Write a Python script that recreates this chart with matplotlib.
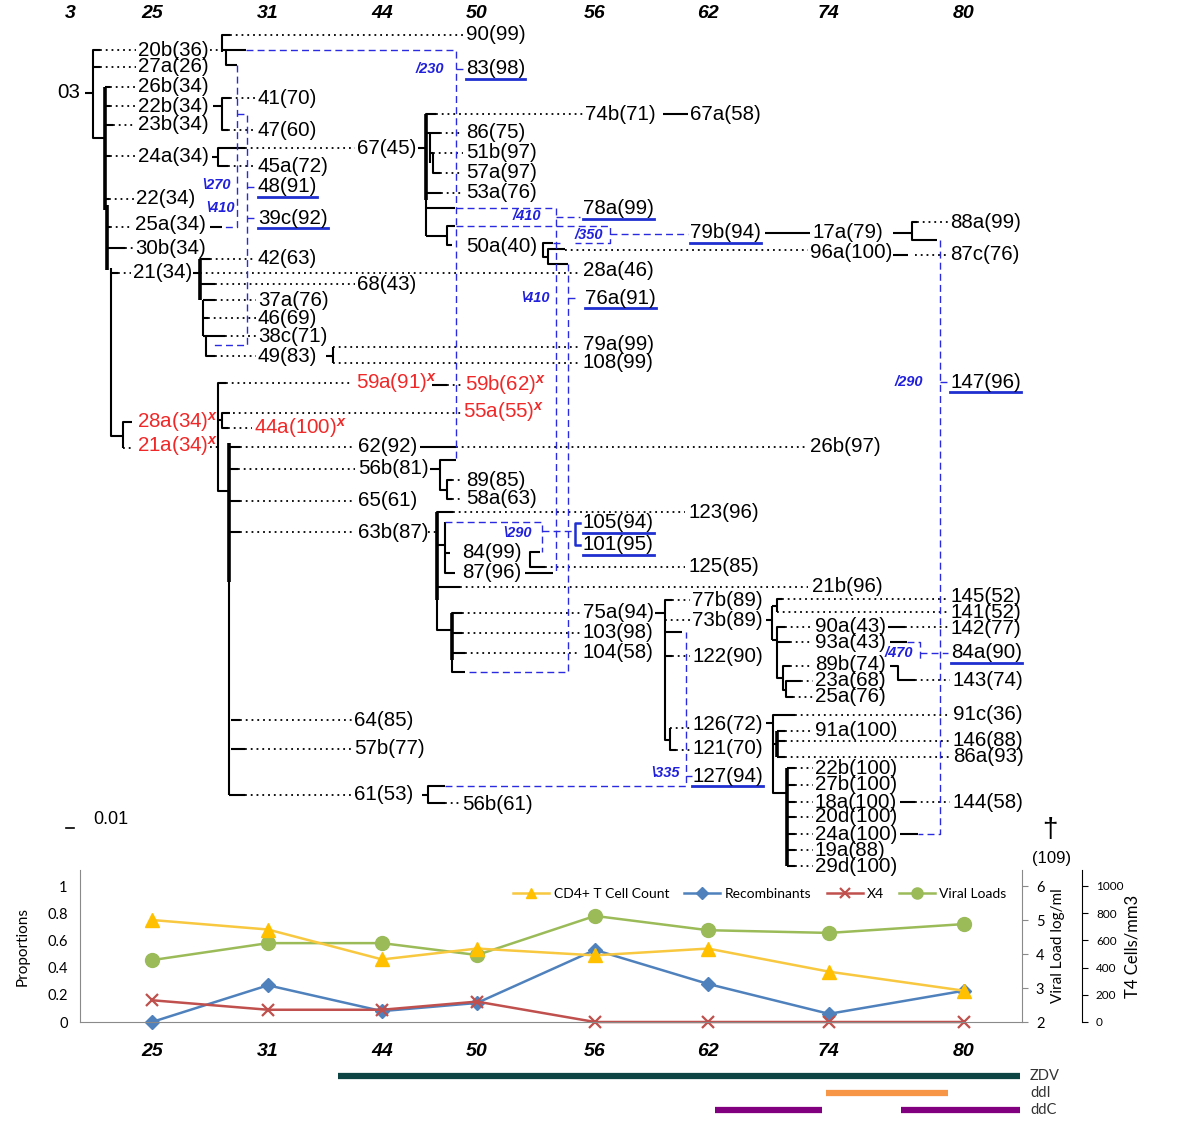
import matplotlib.pyplot as plt

plt.rcParams['mathtext.fontset'] = 'custom'
plt.rcParams['mathtext.rm'] = 'Liberation Sans'
plt.rcParams['mathtext.it'] = 'Liberation Sans:italic:bold'

# sampling weeks, and the column where each week sits in the tree
weeks = ['3', '25', '31', '44', '50', '56', '62', '74', '80']
week_x = [70, 152, 268, 382, 477, 595, 708, 829, 964]

# bottom panel (weeks 25..80)
cd4_cells = [750, 680, 460, 540, 490, 540, 370, 230]
recomb_prop = [0.0, 0.27, 0.08, 0.14, 0.53, 0.28, 0.06, 0.23]
x4_prop = [0.16, 0.09, 0.09, 0.15, 0.0, 0.0, 0.0, 0.0]
viral_log = [3.82, 4.32, 4.32, 3.97, 5.12, 4.70, 4.62, 4.88]

# therapy periods
drugs = ['ZDV', 'ddI', 'ddC']
drug_spans = [[(338, 1020)], [(826, 948)], [(715, 822), (901, 1020)]]
drug_colors = ['#0d4545', '#f79646', '#800080']

# tree: clone labels (name, x, y)
leaves = [
    ('03', 57, 93), ('20b(36)', 138, 50), ('27a(26)', 138, 67), ('26b(34)', 138, 87),
    ('22b(34)', 138, 106), ('23b(34)', 138, 125), ('24a(34)', 138, 156),
    ('22(34)', 136, 199), ('25a(34)', 135, 224), ('30b(34)', 135, 248),
    ('21(34)', 133, 273), ('90(99)', 466, 35), ('41(70)', 258, 98), ('47(60)', 258, 130),
    ('45a(72)', 258, 166), ('67(45)', 357, 148), ('42(63)', 258, 259), ('68(43)', 357, 284),
    ('37a(76)', 258, 300), ('46(69)', 258, 318), ('38c(71)', 258, 336), ('49(83)', 258, 356),
    ('74b(71)', 585, 114), ('67a(58)', 690, 114), ('86(75)', 466, 133), ('51b(97)', 466, 153),
    ('57a(97)', 466, 173), ('53a(76)', 466, 193), ('50a(40)', 466, 247), ('28a(46)', 583, 271),
    ('79a(99)', 583, 345), ('108(99)', 583, 363), ('17a(79)', 812, 233), ('96a(100)', 810, 253),
    ('88a(99)', 950, 222), ('87c(76)', 950, 255), ('62(92)', 358, 447), ('56b(81)', 358, 469),
    ('65(61)', 358, 501), ('63b(87)', 358, 532), ('64(85)', 354, 720), ('57b(77)', 354, 749),
    ('61(53)', 354, 795), ('26b(97)', 810, 447), ('89(85)', 466, 480), ('58a(63)', 466, 499),
    ('123(96)', 688, 513), ('84(99)', 462, 553), ('87(96)', 462, 573), ('125(85)', 688, 566),
    ('21b(96)', 812, 586), ('75a(94)', 583, 613), ('103(98)', 583, 633), ('104(58)', 583, 653),
    ('77b(89)', 692, 600), ('73b(89)', 692, 620), ('122(90)', 692, 656), ('126(72)', 692, 725),
    ('121(70)', 692, 748), ('56b(61)', 462, 805), ('145(52)', 951, 596), ('141(52)', 951, 612),
    ('142(77)', 951, 628), ('90a(43)', 815, 627), ('93a(43)', 815, 642), ('89b(74)', 815, 665),
    ('23a(68)', 815, 681), ('25a(76)', 815, 697), ('143(74)', 953, 680), ('91c(36)', 953, 714),
    ('91a(100)', 815, 731), ('146(88)', 953, 740), ('86a(93)', 953, 757), ('22b(100)', 815, 768),
    ('27b(100)', 815, 785), ('18a(100)', 815, 802), ('20d(100)', 815, 817), ('24a(100)', 815, 834),
    ('19a(88)', 815, 850), ('29d(100)', 815, 866), ('144(58)', 953, 802),
]
# recombinant clones (underlined)
recombinants = [
    ('83(98)', 466, 69), ('48(91)', 258, 187), ('39c(92)', 258, 218), ('78a(99)', 583, 209),
    ('79b(94)', 690, 233), ('76a(91)', 585, 298), ('147(96)', 950, 382), ('105(94)', 583, 523),
    ('101(95)', 583, 545), ('127(94)', 692, 776), ('84a(90)', 951, 653),
]
# X4 clones
x4_clones = [
    ('28a(34)', 137, 422), ('21a(34)', 137, 446), ('59a(91)', 356, 383),
    ('44a(100)', 254, 428), ('59b(62)', 465, 385), ('55a(55)', 463, 412),
]
# recombination breakpoints
breakpoints = [
    ('/230', 416, 69), ('\\270', 202, 185), ('\\410', 206, 208), ('/410', 513, 216),
    ('/350', 575, 235), ('\\410', 521, 298), ('/290', 895, 382), ('\\290', 503, 533),
    ('\\335', 651, 773), ('/470', 885, 653),
]

solid_paths = [
    [(85, 93), (93, 93)], [(100, 50), (93, 50), (93, 138), (105, 138)], [(93, 67), (100, 67)],
    [(105, 87), (110, 87)], [(105, 106), (110, 106)], [(105, 125), (113, 125)],
    [(105, 156), (110, 156)], [(105, 199), (109, 199)], [(107, 227), (110, 227)],
    [(107, 248), (125, 248)], [(111, 273), (118, 273)], [(111, 268), (111, 436), (123, 436)],
    [(132, 422), (123, 422), (123, 448)],
    [(230, 35), (222, 35), (222, 52)], [(222, 50), (246, 50)], [(226, 50), (226, 65), (237, 65)],
    [(213, 106), (222, 106)], [(230, 98), (222, 98), (222, 130), (228, 130)],
    [(212, 157), (218, 157)], [(245, 148), (218, 148), (218, 166), (228, 166)],
    [(210, 227), (222, 227)],
    [(193, 273), (200, 273)], [(210, 259), (200, 259), (200, 300)], [(200, 284), (215, 284)],
    [(203, 300), (215, 300)], [(203, 300), (203, 336)], [(203, 318), (208, 318)],
    [(203, 336), (225, 336)], [(206, 336), (206, 356), (215, 356)],
    [(326, 356), (333, 356)], [(333, 347), (333, 363)],
    [(418, 148), (426, 148)], [(436, 114), (426, 114), (426, 236)], [(426, 133), (440, 133)],
    [(430, 133), (430, 163)], [(430, 153), (433, 153)], [(433, 153), (433, 173), (440, 173)],
    [(426, 193), (441, 193)], [(426, 208), (455, 208)], [(426, 236), (447, 236)],
    [(455, 226), (447, 226), (447, 245), (452, 245)],
    [(663, 114), (688, 114)],
    [(553, 243), (543, 243), (543, 257), (548, 257)], [(565, 249), (548, 249), (548, 264), (568, 264)],
    [(765, 233), (810, 233)], [(893, 233), (912, 233)],
    [(917, 222), (912, 222), (912, 240), (937, 240)], [(893, 255), (908, 255)],
    [(226, 383), (218, 383), (218, 491), (229, 491)], [(218, 420), (222, 420)],
    [(230, 413), (222, 413), (222, 428), (228, 428)], [(229, 443), (229, 795)],
    [(229, 447), (240, 447)], [(229, 469), (238, 469)], [(229, 501), (240, 501)],
    [(229, 532), (240, 532)], [(231, 720), (240, 720)], [(231, 749), (245, 749)],
    [(229, 795), (245, 795)],
    [(432, 385), (447, 385)], [(420, 447), (456, 447)],
    [(430, 469), (440, 469)], [(456, 460), (440, 460), (440, 490), (447, 490)],
    [(452, 480), (447, 480), (447, 499), (452, 499)],
    [(453, 512), (437, 512), (437, 630), (452, 630)], [(437, 545), (445, 545)],
    [(445, 522), (445, 573), (455, 573)], [(445, 553), (450, 553)], [(437, 587), (460, 587)],
    [(462, 613), (452, 613), (452, 672), (465, 672)], [(452, 633), (462, 633)],
    [(452, 653), (465, 653)],
    [(540, 552), (530, 552), (530, 567), (545, 567)], [(525, 573), (553, 573)],
    [(655, 613), (665, 613)], [(672, 600), (665, 600), (665, 740), (670, 740)],
    [(665, 632), (682, 632)], [(665, 656), (672, 656)], [(670, 728), (670, 750), (676, 750)],
    [(766, 620), (772, 620)], [(772, 606), (772, 640)], [(772, 606), (777, 606)],
    [(782, 599), (777, 599), (777, 612)], [(772, 640), (777, 640)],
    [(785, 627), (777, 627), (777, 678), (783, 678)], [(777, 642), (790, 642)],
    [(790, 666), (783, 666), (783, 690), (786, 690)],
    [(801, 681), (786, 681), (786, 697), (793, 697)],
    [(888, 627), (905, 627)], [(890, 642), (907, 642)],
    [(890, 666), (898, 666), (898, 680), (915, 680)],
    [(766, 723), (773, 723)], [(795, 715), (773, 715), (773, 793), (787, 793)],
    [(773, 744), (777, 744)], [(777, 731), (785, 731)], [(777, 741), (785, 741)],
    [(777, 757), (785, 757)],
    [(787, 768), (795, 768)], [(787, 785), (795, 785)], [(787, 802), (795, 802)],
    [(787, 817), (795, 817)], [(787, 834), (795, 834)], [(787, 850), (795, 850)],
    [(787, 866), (795, 866)],
    [(900, 802), (915, 802)], [(900, 834), (918, 834)],
    [(422, 795), (428, 795)], [(445, 786), (428, 786), (428, 803), (445, 803)],
]
thick_paths = [
    [(105, 87), (105, 210)], [(107, 205), (107, 270)], [(229, 443), (229, 582)],
    [(200, 259), (200, 300)], [(426, 114), (426, 200)], [(437, 512), (437, 600)],
    [(787, 768), (787, 866)], [(777, 731), (777, 757)], [(452, 613), (452, 660)],
]
dotted_paths = [
    [(100, 50), (136, 50)], [(100, 67), (136, 67)], [(110, 87), (136, 87)], [(110, 106), (136, 106)],
    [(113, 125), (136, 125)], [(110, 156), (136, 156)], [(109, 199), (134, 199)],
    [(110, 227), (133, 227)], [(125, 248), (133, 248)], [(118, 273), (131, 273)],
    [(123, 448), (134, 448)], [(210, 50), (220, 50)], [(230, 35), (463, 35)],
    [(230, 98), (256, 98)], [(228, 130), (256, 130)], [(245, 148), (355, 148)],
    [(228, 166), (256, 166)], [(210, 259), (256, 259)], [(200, 273), (580, 273)],
    [(215, 284), (355, 284)], [(215, 300), (256, 300)], [(208, 318), (256, 318)],
    [(225, 336), (256, 336)], [(215, 356), (256, 356)],
    [(333, 347), (580, 347)], [(333, 363), (580, 363)],
    [(436, 114), (583, 114)], [(440, 133), (463, 133)], [(433, 153), (463, 153)],
    [(440, 173), (463, 173)], [(441, 193), (463, 193)],
    [(565, 250), (808, 250)], [(917, 222), (948, 222)], [(915, 255), (948, 255)],
    [(210, 447), (218, 447)], [(226, 383), (352, 383)], [(233, 413), (461, 413)],
    [(228, 428), (252, 428)],
    [(240, 447), (355, 447)], [(238, 469), (355, 469)], [(240, 501), (355, 501)],
    [(240, 532), (355, 532)], [(240, 720), (352, 720)], [(245, 749), (352, 749)],
    [(245, 795), (352, 795)],
    [(447, 385), (461, 385)], [(456, 447), (808, 447)],
    [(452, 480), (463, 480)], [(452, 499), (463, 499)], [(428, 532), (437, 532)],
    [(453, 512), (685, 512)], [(545, 567), (685, 567)], [(460, 587), (808, 587)],
    [(462, 613), (580, 613)], [(462, 633), (580, 633)], [(465, 653), (580, 653)],
    [(672, 600), (690, 600)], [(665, 620), (690, 620)], [(672, 656), (690, 656)],
    [(670, 728), (690, 728)], [(676, 750), (690, 750)],
    [(782, 599), (948, 599)], [(777, 612), (948, 612)], [(785, 627), (813, 627)],
    [(790, 642), (813, 642)], [(790, 666), (813, 666)], [(801, 681), (813, 681)],
    [(793, 697), (813, 697)], [(905, 627), (948, 627)], [(915, 680), (950, 680)],
    [(795, 715), (950, 715)], [(785, 731), (813, 731)], [(785, 741), (950, 741)],
    [(785, 757), (950, 757)],
    [(795, 768), (813, 768)], [(795, 785), (813, 785)], [(795, 802), (813, 802)],
    [(795, 817), (813, 817)], [(795, 834), (813, 834)], [(795, 850), (813, 850)],
    [(795, 866), (813, 866)],
    [(915, 802), (950, 802)], [(445, 803), (460, 803)],
]
dashed_paths = [
    [(246, 50), (456, 50), (456, 460)], [(456, 69), (463, 69)],
    [(237, 65), (237, 227), (222, 227)], [(237, 114), (247, 114), (247, 345), (213, 345)],
    [(247, 187), (254, 187)], [(247, 218), (254, 218)],
    [(456, 208), (556, 208), (556, 573)], [(556, 217), (580, 217)],
    [(456, 226), (610, 226), (610, 243), (575, 243)], [(610, 234), (688, 234)],
    [(553, 243), (563, 243)], [(568, 264), (568, 672), (465, 672)], [(568, 298), (576, 298)],
    [(445, 522), (542, 522), (542, 552)], [(542, 531), (575, 531)],
    [(445, 786), (686, 786), (686, 632)], [(686, 776), (692, 776)],
    [(940, 240), (940, 834), (918, 834)], [(940, 382), (948, 382)],
    [(907, 642), (920, 642), (920, 662)], [(920, 653), (948, 653)],
]

TREE_FONT = 'Liberation Sans'
BLUE = '#1f2fd0'
RED = '#f02828'

fig = plt.figure(figsize=(12, 11.27), dpi=100)
ax = fig.add_axes([0, 0, 1, 1])
ax.set_xlim(0, 1200)
ax.set_ylim(1127, 0)
ax.axis('off')

# tree branches
for path in solid_paths:
    xs, ys = zip(*path)
    ax.plot(xs, ys, color='black', lw=1.5, solid_capstyle='butt')
for path in thick_paths:
    xs, ys = zip(*path)
    ax.plot(xs, ys, color='black', lw=2.6, solid_capstyle='butt')
for path in dotted_paths:
    xs, ys = zip(*path)
    ax.plot(xs, ys, color='black', lw=1.3, linestyle=(0, (1, 2.2)))
for path in dashed_paths:
    xs, ys = zip(*path)
    ax.plot(xs, ys, color='#2a2ae0', lw=1.0, linestyle=(0, (5, 3)))
ax.plot([580, 575, 575, 580], [523, 523, 545, 545], color=BLUE, lw=1.8)

# labels
for name, x, y in leaves:
    ax.text(x, y, name, fontsize=14.8, family=TREE_FONT, va='center', ha='left')
for name, x, y in x4_clones:
    ax.text(x, y, name + r'$^{x}$', fontsize=14.8, family=TREE_FONT, color=RED,
            va='center', ha='left')
rec_texts = []
for name, x, y in recombinants:
    t = ax.text(x, y, name, fontsize=14.8, family=TREE_FONT, va='center', ha='left')
    rec_texts.append((t, y))
for name, x, y in breakpoints:
    ax.text(x, y, name, fontsize=10.5, family=TREE_FONT, color='#2020dd',
            style='italic', weight='bold', va='center', ha='left')

for w, x in zip(weeks, week_x):
    ax.text(x, 13, w, fontsize=14, family=TREE_FONT, weight='bold', style='italic',
            ha='center', va='center')

# scale bar and death marker
ax.plot([66, 74], [828, 828], color='black', lw=1.2)
ax.text(93, 820, '0.01', fontsize=13, family=TREE_FONT, va='center')
ax.text(1050, 830, '\u2020', fontsize=20, family=TREE_FONT, ha='center', va='center')
ax.text(1052, 858, '(109)', fontsize=12, family=TREE_FONT, ha='center', va='center')

# therapy bars
for i, name in enumerate(drugs):
    y = 1076 + 17 * i
    for a, b in drug_spans[i]:
        ax.plot([a, b], [y, y], color=drug_colors[i], lw=4.5, solid_capstyle='butt')
    ax.text(1030, y, name, fontsize=10.5, family='Lato', color='#333333', va='center')

# bottom panel
pos = week_x[1:]
axc = fig.add_axes([80 / 1200, 105 / 1127, 942 / 1200, 152 / 1127])
axc.patch.set_alpha(0)
axc.set_xlim(80, 1022)
top = 152 / 136
axc.set_ylim(0, top)
for s in ['top', 'right']:
    axc.spines[s].set_visible(False)
axc.spines['left'].set_color('#8a8a8a')
axc.spines['bottom'].set_color('#8a8a8a')
axc.set_yticks([0, 0.2, 0.4, 0.6, 0.8, 1.0], ['0', '0.2', '0.4', '0.6', '0.8', '1'])
axc.tick_params(axis='y', length=0, pad=9, labelsize=10.5)
axc.set_xticks(pos, weeks[1:])
axc.tick_params(axis='x', length=0, pad=15)
for lab in axc.get_xticklabels():
    lab.set_fontfamily(TREE_FONT)
    lab.set_fontsize(14)
    lab.set_fontweight('bold')
    lab.set_fontstyle('italic')
for lab in axc.get_yticklabels():
    lab.set_fontfamily('Lato')
axc.set_ylabel('Proportions', fontsize=11, family='Lato')
axc.yaxis.set_label_coords(-0.054, 0.5)

axv = axc.twinx()
axv.set_ylim(2, 2 + 4 * top)
axv.set_yticks([2, 3, 4, 5, 6])
for s in ['top', 'left', 'bottom']:
    axv.spines[s].set_visible(False)
axv.spines['right'].set_color('#8a8a8a')
axv.tick_params(axis='y', length=4, color='#8a8a8a', pad=6, labelsize=10.5)
for lab in axv.get_yticklabels():
    lab.set_fontfamily('Lato')
axv.set_ylabel('Viral Load log/ml', fontsize=11, family='Lato')
axv.yaxis.set_label_coords(1.031, 0.5)

axt = axc.twinx()
axt.set_ylim(0, 1000 * top)
axt.spines['right'].set_position(('axes', (1082 - 80) / 942))
for s in ['top', 'left', 'bottom']:
    axt.spines[s].set_visible(False)
axt.set_yticks([0, 200, 400, 600, 800, 1000])
axt.tick_params(axis='y', length=4, pad=6, labelsize=8.5)
for lab in axt.get_yticklabels():
    lab.set_fontfamily('Lato')
axt.set_ylabel('T4 Cells/mm3', fontsize=12, family='Lato')
axt.yaxis.set_label_coords(1.109, 0.5)

l_rec, = axc.plot(pos, recomb_prop, color='#4f81bd', marker='D', ms=7.5, lw=1.8,
                  clip_on=False, label='Recombinants')
l_x4, = axc.plot(pos, x4_prop, color='#c0504d', marker='x', ms=9, mew=1.6, lw=1.8,
                 clip_on=False, label='X4')
l_vl, = axv.plot(pos, viral_log, color='#9bbb59', marker='o', ms=10, lw=1.8,
                 clip_on=False, label='Viral Loads')
l_cd4, = axt.plot(pos, cd4_cells, color='#f8c840', marker='^', mfc='#ffc000', mec='#ffc000',
                  ms=9.5, lw=1.8, clip_on=False, label='CD4+ T Cell Count')

axt.legend(handles=[l_cd4, l_rec, l_x4, l_vl], loc='center',
           bbox_to_anchor=(760 / 1200, 1 - 894 / 1127), bbox_transform=fig.transFigure,
           ncol=4, frameon=False, prop={'family': 'Lato', 'size': 10},
           handlelength=2.6, handletextpad=0.3, columnspacing=1.1, markerscale=0.8)

# blue underlines under the recombinant labels
fig.canvas.draw()
inv = ax.transData.inverted()
for t, y in rec_texts:
    bb = t.get_window_extent()
    x0 = inv.transform((bb.x0, bb.y0))[0]
    x1 = inv.transform((bb.x1, bb.y0))[0]
    ax.plot([x0, x1], [y + 9.5, y + 9.5], color=BLUE, lw=2)

fig.savefig('out.png', dpi=100)
